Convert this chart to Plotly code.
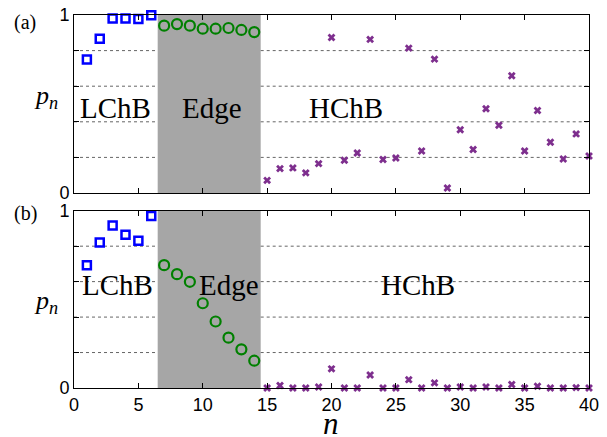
import plotly.graph_objects as go
from plotly.subplots import make_subplots

# Site index n for each regime
n_lchb = [1, 2, 3, 4, 5, 6]
n_edge = [7, 8, 9, 10, 11, 12, 13, 14]
n_hchb = list(range(15, 41))

# Panel (a) probabilities
pa_lchb = [0.750, 0.867, 0.981, 0.981, 0.977, 0.998]
pa_edge = [0.940, 0.949, 0.940, 0.923, 0.923, 0.927, 0.916, 0.904]
pa_hchb = [0.071, 0.137, 0.141, 0.113, 0.165, 0.874, 0.184, 0.225, 0.863, 0.188,
           0.197, 0.814, 0.236, 0.752, 0.028, 0.355, 0.244, 0.473, 0.381, 0.659,
           0.236, 0.463, 0.285, 0.191, 0.332, 0.208]

# Panel (b) probabilities
pb_lchb = [0.693, 0.821, 0.917, 0.864, 0.831, 0.970]
pb_edge = [0.693, 0.642, 0.599, 0.478, 0.375, 0.284, 0.218, 0.154]
pb_hchb = [0.0, 0.014, 0.0, 0.0, 0.006, 0.108, 0.0, 0.0, 0.073, 0.0,
           0.0, 0.047, 0.0, 0.029, 0.0, 0.006, 0.0, 0.006, 0.0, 0.020,
           0.0, 0.010, 0.0, 0.0, 0.002, 0.0]

edge_span = (6.5, 14.5)
x_range = (0, 40)
ytick_vals = [0, 0.2, 0.4, 0.6, 0.8, 1.0]
ytick_text = ["0", "", "", "", "", "1"]
grid_levels = [0.2, 0.4, 0.6, 0.8]
xtick_vals = [0, 5, 10, 15, 20, 25, 30, 35, 40]

BLUE = "#0000ff"
GREEN = "#008000"
PURPLE = "#7e2f8e"
SERIF = "Liberation Serif, Times New Roman, serif"
SANS = "Liberation Sans, Arial, sans-serif"

fig = make_subplots(rows=2, cols=1, vertical_spacing=0.0)

panels = [
    (1, pa_lchb, pa_edge, pa_hchb, [(3.2, 0.48, "LChB"), (10.7, 0.48, "Edge"), (21.1, 0.48, "HChB")]),
    (2, pb_lchb, pb_edge, pb_hchb, [(3.4, 0.58, "LChB"), (12.0, 0.58, "Edge"), (26.7, 0.58, "HChB")]),
]

for row, lchb, edge, hchb, labels in panels:
    xref = "x" if row == 1 else "x2"
    yref = "y" if row == 1 else "y2"

    # shaded edge region
    fig.add_shape(type="rect", xref=xref, yref=yref + " domain",
                  x0=edge_span[0], x1=edge_span[1], y0=0, y1=1,
                  fillcolor="#a6a6a6", line=dict(width=0), layer="below")
    # dotted grid, hidden behind the shaded region
    for g in grid_levels:
        for xa, xb in [(x_range[0], edge_span[0]), (edge_span[1], x_range[1])]:
            fig.add_shape(type="line", xref=xref, yref=yref, x0=xa, x1=xb, y0=g, y1=g,
                          line=dict(color="#666666", width=1, dash="dot"), layer="below")

    fig.add_trace(go.Scatter(
        x=n_lchb, y=lchb, mode="markers", cliponaxis=False, showlegend=False,
        marker=dict(symbol="square-open", size=8, color=BLUE, line=dict(width=2.5, color=BLUE)),
    ), row=row, col=1)
    fig.add_trace(go.Scatter(
        x=n_edge, y=edge, mode="markers", cliponaxis=False, showlegend=False,
        marker=dict(symbol="circle-open", size=10, color=GREEN, line=dict(width=2.2, color=GREEN)),
    ), row=row, col=1)
    fig.add_trace(go.Scatter(
        x=n_hchb, y=hchb, mode="markers", cliponaxis=False, showlegend=False,
        marker=dict(symbol="x", size=7, color=PURPLE, line=dict(width=0)),
    ), row=row, col=1)

    for tx, ty, txt in labels:
        fig.add_annotation(x=tx, y=ty, xref=xref, yref=yref, text=txt, showarrow=False,
                           font=dict(family=SERIF, size=29, color="black"))

axis_common = dict(showline=True, linecolor="black", linewidth=1, mirror="ticks",
                   ticks="inside", ticklen=5, tickcolor="black", tickwidth=1,
                   zeroline=False, showgrid=False, automargin=False,
                   tickfont=dict(family=SANS, size=18, color="black"))

fig.update_xaxes(range=list(x_range), tickvals=xtick_vals, **axis_common)
fig.update_xaxes(showticklabels=False, row=1, col=1)
fig.update_yaxes(range=[0, 1], tickvals=ytick_vals, ticktext=ytick_text, **axis_common)

fig.update_layout(
    width=607, height=437,
    margin=dict(l=74, r=18, t=15, b=49, autoexpand=False),
    paper_bgcolor="white", plot_bgcolor="white",
    yaxis=dict(domain=[0.5228, 1.0]),
    yaxis2=dict(domain=[0.0, 0.4753]),
)

# axis labels and panel tags, positioned in pixels
W, H = 607, 437
pw, ph = W - 74 - 18, H - 15 - 49


def add_label(px, py, text, size):
    fig.add_annotation(x=(px - 74) / pw, y=1 - (py - 15) / ph, xref="paper", yref="paper",
                       xanchor="center", yanchor="middle", text=text, showarrow=False,
                       font=dict(family=SERIF, size=size, color="black"))


add_label(46, 97, "<i>p</i><sub><i>n</i></sub>", 26)
add_label(46, 302, "<i>p</i><sub><i>n</i></sub>", 26)
add_label(331, 423, "<i>n</i>", 31)
add_label(25, 22, "(a)", 20)
add_label(25, 213, "(b)", 20)

fig.write_html("out.html")
